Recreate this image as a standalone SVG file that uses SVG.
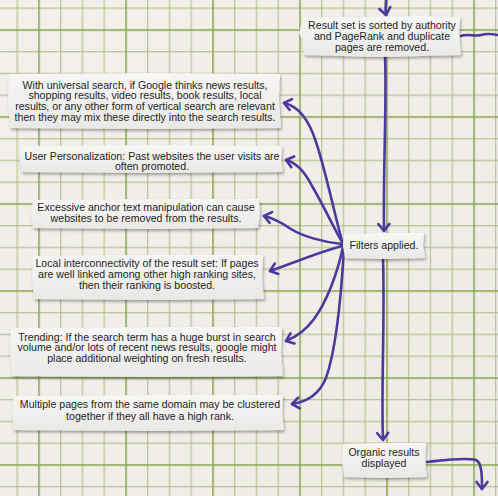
<svg xmlns="http://www.w3.org/2000/svg" width="498" height="496" viewBox="0 0 498 496">
<defs>
<pattern id="grid" x="-48.75" y="-57.75" width="87" height="87" patternUnits="userSpaceOnUse">
<path d="M22.5,0 V87 M44.25,0 V87 M66,0 V87 M0,22.5 H87 M0,44.25 H87 M0,66 H87" stroke="#a6bd7c" stroke-width="1" fill="none"/>
<path d="M0.75,0 V87 M0,0.75 H87" stroke="#84a34c" stroke-width="1.5" fill="none"/>
</pattern>
<filter id="sh" x="-10%" y="-20%" width="120%" height="150%">
<feDropShadow dx="1" dy="2" stdDeviation="1.4" flood-color="#000" flood-opacity="0.35"/>
</filter>
<linearGradient id="paper" x1="0" y1="0" x2="1" y2="1">
<stop offset="0" stop-color="#f3efea"/>
<stop offset="0.5" stop-color="#f1ede8"/>
<stop offset="1" stop-color="#eeeae4"/>
</linearGradient>
<linearGradient id="note" x1="0" y1="0" x2="0" y2="1">
<stop offset="0" stop-color="#f6f6f5"/>
<stop offset="1" stop-color="#e9e9e8"/>
</linearGradient>
<marker id="ah" markerUnits="userSpaceOnUse" markerWidth="16" markerHeight="16" refX="0" refY="0" viewBox="-9 -8 11 16" orient="auto">
<path d="M-7,-5.5 L0,0 L-7,5.5" fill="none" stroke="#4a3a9e" stroke-width="2.6" stroke-linecap="round" stroke-linejoin="round"/>
</marker>
<style>
.note{fill:url(#note);filter:url(#sh);}
.t{font-family:"Liberation Sans","Noto Sans",Arial,sans-serif;font-size:10.6px;fill:#1e1e1e;text-anchor:middle;}
.c{fill:none;stroke:#4a3a9e;stroke-width:2.6;stroke-linecap:round;stroke-linejoin:round;}
.a{marker-end:url(#ah);}
</style>
</defs>
<rect width="498" height="496" fill="url(#paper)"/>
<rect width="498" height="496" fill="url(#grid)"/>

<g id="connectors">
<path class="c a" d="M386,0 C386,5 385,9 386,15"/>
<path class="c" d="M461,36 C468,33 474,37 481,35 S492,34 498,35"/>
<path class="c a" d="M385,56 C387,100 383,170 384,231"/>
<path class="c a" d="M383,258 C385,320 381,390 383,440"/>
<path class="c a" d="M427,462 C445,460 465,457 476,460 C482,463 482,476 482,489"/>
<path class="c a" d="M342,241 C334,212 326,172 316,142 C309,120 298,106 284,103"/>
<path class="c a" d="M342,242 C332,224 321,201 312,186 C305,172 297,163 286,160"/>
<path class="c a" d="M342,244 C322,242 302,236 291,229 C282,223 273,218 264,216"/>
<path class="c a" d="M342,246 C322,251 296,262 270,271"/>
<path class="c a" d="M343,247 C337,275 326,303 314,319 C306,330 296,337 286,341"/>
<path class="c a" d="M344,248 C341,300 336,350 326,378 C319,395 306,402 292,404"/>
</g>

<g id="n-sorted">
<path class="note" d="M303,18 L420,16 L460,17 L459,36 L461,55 L380,57 L304,55 L302,40 L299,33 Z"/>
<text class="t" x="382" y="28.5">Result set is sorted by authority</text>
<text class="t" x="382" y="39.5">and PageRank and duplicate</text>
<text class="t" x="382" y="50.5">pages are removed.</text>
</g>

<g id="n-universal">
<path class="note" d="M9,74 L150,73 L280,74 L279,100 L281,128 L150,129 L10,128 L8,100 Z"/>
<text class="t" x="145" y="88.5">With universal search, if Google thinks news results,</text>
<text class="t" x="145" y="99">shopping results, video results, book results, local</text>
<text class="t" x="145" y="109.5">results, or any other form of vertical search are relevant</text>
<text class="t" x="145" y="120.5">then they may mix these directly into the search results.</text>
</g>

<g id="n-personal">
<path class="note" d="M21,146 L150,145 L282,146 L281,160 L283,172 L150,173 L22,172 L20,160 Z"/>
<text class="t" x="152" y="159.5">User Personalization: Past websites the user visits are</text>
<text class="t" x="152" y="170">often promoted.</text>
</g>

<g id="n-anchor">
<path class="note" d="M33,200 L150,199 L259,199 L260,214 L258,228 L150,229 L33,228 L31,213 Z"/>
<text class="t" x="146" y="211">Excessive anchor text manipulation can cause</text>
<text class="t" x="146" y="221.5">websites to be removed from the results.</text>
</g>

<g id="n-local">
<path class="note" d="M33,256 L150,255 L263,255 L262,278 L264,299 L150,300 L34,299 L32,278 Z"/>
<text class="t" x="147" y="266.5">Local interconnectivity of the result set: If pages</text>
<text class="t" x="147" y="277.5">are well linked among other high ranking sites,</text>
<text class="t" x="147" y="288.5">then their ranking is boosted.</text>
</g>

<g id="n-trending">
<path class="note" d="M11,328 L150,327 L282,327 L281,352 L283,376 L150,377 L12,376 L10,352 Z"/>
<text class="t" x="147" y="340.5">Trending: If the search term has a huge burst in search</text>
<text class="t" x="147" y="351">volume and/or lots of recent news results, google might</text>
<text class="t" x="147" y="362">place additional weighting on fresh results.</text>
</g>

<g id="n-multiple">
<path class="note" d="M14,396 L150,395 L283,395 L282,412 L284,430 L150,431 L14,430 L12,412 Z"/>
<text class="t" x="150" y="408">Multiple pages from the same domain may be clustered</text>
<text class="t" x="150" y="419.5">together if they all have a high rank.</text>
</g>

<g id="n-filters">
<path class="note" d="M344,234 L385,233 L424,233 L423,245 L425,258 L385,259 L345,258 L343,246 Z"/>
<text class="t" x="384" y="249">Filters applied.</text>
</g>

<g id="n-organic">
<path class="note" d="M343,444 L385,443 L426,443 L425,460 L427,477 L385,478 L344,477 L342,460 Z"/>
<text class="t" x="384" y="455.5">Organic results</text>
<text class="t" x="384" y="466.5">displayed</text>
</g>
</svg>
